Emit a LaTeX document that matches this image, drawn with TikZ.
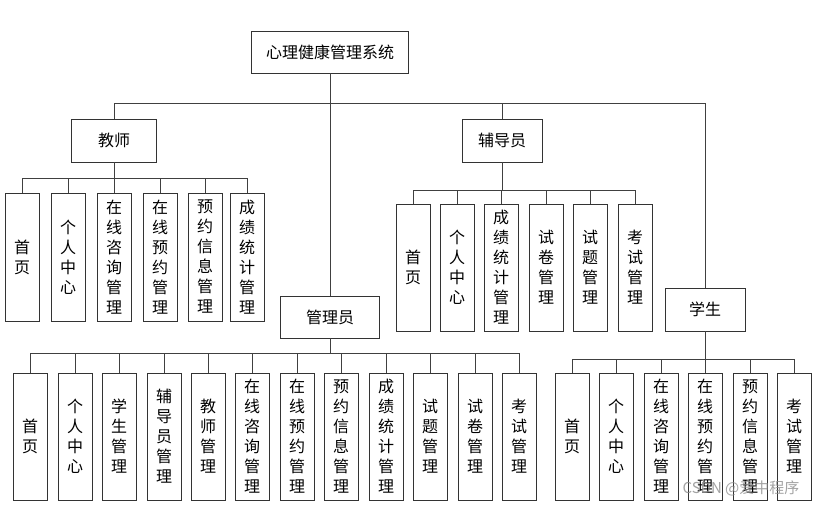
\documentclass[tikz,border=0pt]{standalone}
\usepackage{fontspec}
\newfontfamily\cjk{Noto Sans CJK SC}
\begin{document}
\begin{tikzpicture}[x=1pt,y=-1pt,
  box/.style={draw=black!80, line width=0.9pt, fill=white, inner sep=0pt, font=\cjk\fontsize{16}{20}\selectfont},
  leaf/.style={box, minimum width=34pt, minimum height=127pt, align=center},
  head/.style={box, minimum width=85pt, minimum height=43pt},
  conn/.style={draw=black!75, line width=0.9pt}]
\useasboundingbox (0,0) rectangle (824,506);
% root and second level
\node[head, minimum width=157pt, minimum height=42pt] (root) at (330,52) {心理健康管理系统};
\node[head] (t) at (114,140.5) {教师};
\node[head, minimum width=80pt] (c) at (502,140.5) {辅导员};
\node[head, minimum width=99pt, minimum height=42pt] (a) at (330,317) {管理员};
\node[head, minimum width=80pt] (s) at (705,309.5) {学生};
\coordinate (topbus) at (330,103);
\draw[conn] (root.south) -- (a.north);
\draw[conn] (t.north) -- (t.north |- topbus) -- (s.north |- topbus) -- (s.north);
\draw[conn] (c.north) -- (c.north |- topbus);
% teacher leaves
\foreach \n/\x/\txt in {1/22/首\\页, 2/68/个\\人\\中\\心, 3/114/在\\线\\咨\\询\\管\\理, 4/160/在\\线\\预\\约\\管\\理, 5/205/预\\约\\信\\息\\管\\理, 6/247/成\\绩\\统\\计\\管\\理}
  \node[leaf, minimum height=128pt] (t\n) at (\x,257) {\txt};
\coordinate (tbus) at (114,178);
\draw[conn] (t.south) -- (tbus);
\draw[conn] (t1.north |- tbus) -- (t6.north |- tbus);
\foreach \n in {1,...,6} \draw[conn] (t\n.north) -- (t\n.north |- tbus);
% counselor leaves
\foreach \n/\x/\txt in {1/413/首\\页, 2/457/个\\人\\中\\心, 3/501/成\\绩\\统\\计\\管\\理, 4/546/试\\卷\\管\\理, 5/590/试\\题\\管\\理, 6/635/考\\试\\管\\理}
  \node[leaf] (c\n) at (\x,267.5) {\txt};
\coordinate (cbus) at (502,190);
\draw[conn] (c.south) -- (cbus);
\draw[conn] (c1.north |- cbus) -- (c6.north |- cbus);
\foreach \n in {1,...,6} \draw[conn] (c\n.north) -- (c\n.north |- cbus);
% admin leaves
\foreach \n/\x/\txt in {1/30/首\\页, 2/75/个\\人\\中\\心, 3/119/学\\生\\管\\理, 4/164/辅\\导\\员\\管\\理, 5/208/教\\师\\管\\理, 6/252/在\\线\\咨\\询\\管\\理, 7/297/在\\线\\预\\约\\管\\理, 8/341/预\\约\\信\\息\\管\\理, 9/386/成\\绩\\统\\计\\管\\理, 10/430/试\\题\\管\\理, 11/475/试\\卷\\管\\理, 12/519/考\\试\\管\\理}
  \node[leaf] (a\n) at (\x,436.5) {\txt};
\coordinate (abus) at (330,353);
\draw[conn] (a.south) -- (abus);
\draw[conn] (a1.north |- abus) -- (a12.north |- abus);
\foreach \n in {1,...,12} \draw[conn] (a\n.north) -- (a\n.north |- abus);
% student leaves
\foreach \n/\x/\txt in {1/572/首\\页, 2/616/个\\人\\中\\心, 3/661/在\\线\\咨\\询\\管\\理, 4/705/在\\线\\预\\约\\管\\理, 5/750/预\\约\\信\\息\\管\\理, 6/794/考\\试\\管\\理}
  \node[leaf] (s\n) at (\x,436.5) {\txt};
\coordinate (sbus) at (705,359);
\draw[conn] (s.south) -- (sbus);
\draw[conn] (s1.north |- sbus) -- (s6.north |- sbus);
\foreach \n in {1,...,6} \draw[conn] (s\n.north) -- (s\n.north |- sbus);
% watermark
\node[font=\cjk\fontsize{15}{15}\selectfont, text=black!45, opacity=0.8, inner sep=0pt] (wm) at (741,488) {CSDN @爱中程序};
\end{tikzpicture}
\end{document}
